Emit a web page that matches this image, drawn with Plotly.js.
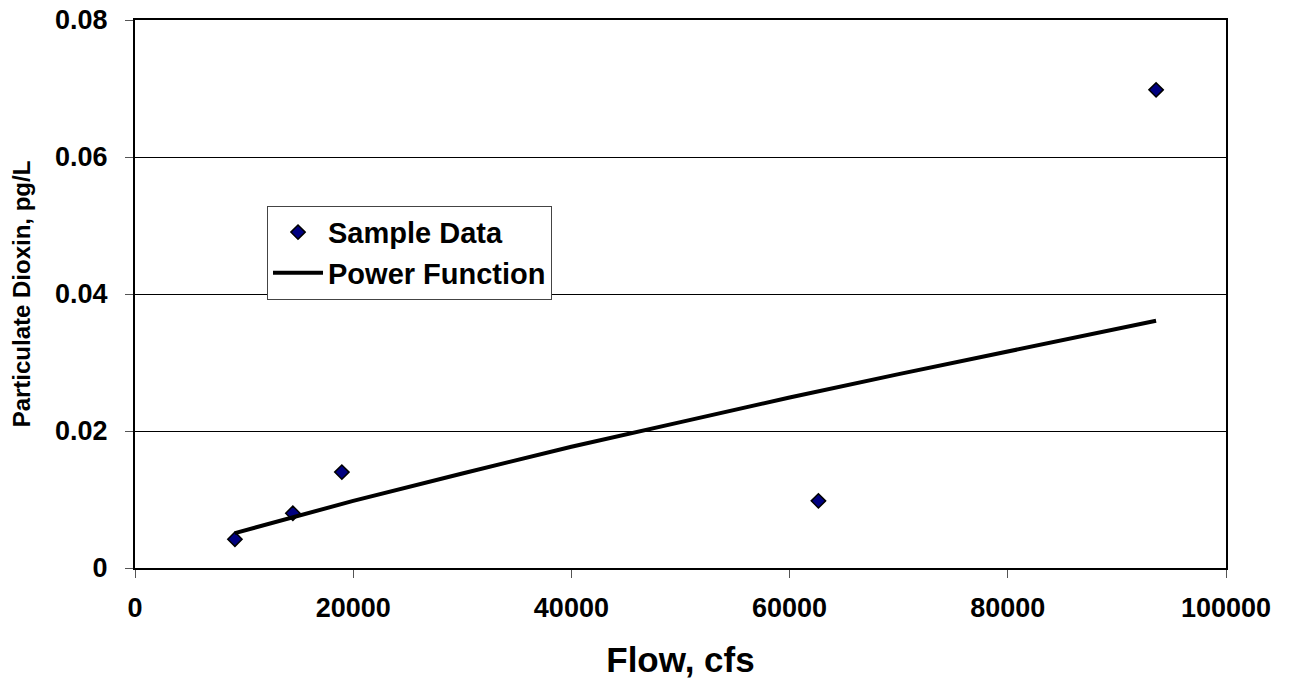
<!DOCTYPE html>
<html>
<head>
<meta charset="utf-8">
<script src="https://cdn.plot.ly/plotly-3.0.1.min.js"></script>
<style>html,body{margin:0;padding:0;background:#fff;}#chart{width:1289px;height:683px;}</style>
</head>
<body>
<div id="chart"></div>
<script>
// Sample data
var flowSample = [9160, 14470, 18960, 62640, 93590];
var dioxinSample = [0.0042, 0.0080, 0.0140, 0.0098, 0.0698];
// Power function fit line
var flowFit = [9160, 20000, 30000, 40000, 50000, 60000, 70000, 80000, 93590];
var dioxinFit = [0.0051, 0.0098, 0.0138, 0.0177, 0.0213, 0.0249, 0.0283, 0.0316, 0.0361];
var xTicks = [0, 20000, 40000, 60000, 80000, 100000];
var yTicks = [0, 0.02, 0.04, 0.06, 0.08];
var yTickText = ['0', '0.02', '0.04', '0.06', '0.08'];

var font = 'Liberation Sans, Arial, sans-serif';
var traces = [
  {x: flowSample, y: dioxinSample, mode: 'markers', type: 'scatter', name: 'Sample Data',
   marker: {symbol: 'diamond', size: 11, color: '#000080', line: {color: '#000', width: 1.5}}},
  {x: flowFit, y: dioxinFit, mode: 'lines', type: 'scatter', name: 'Power Function',
   line: {color: '#000', width: 4}}
];
var layout = {
  width: 1289, height: 683,
  margin: {l: 135, r: 63, t: 20, b: 115},
  paper_bgcolor: '#fff', plot_bgcolor: '#fff',
  font: {family: font, color: '#000'},
  showlegend: true,
  legend: {x: 0.121, y: 0.661, xanchor: 'left', yanchor: 'top', itemwidth: 50,
    bordercolor: '#444', borderwidth: 1, bgcolor: '#fff',
    font: {size: 29, family: font, weight: 'bold'}, tracegroupgap: 0},
  xaxis: {range: [0, 100000], tickvals: xTicks, ticktext: xTicks.map(String),
    showgrid: false, zeroline: false, showline: true, linecolor: '#000', linewidth: 2, mirror: true,
    ticks: 'outside', ticklen: 8, tickcolor: '#555', tickwidth: 1, ticklabelstandoff: 7,
    tickfont: {size: 27, family: font, weight: 'bold'},
    title: {text: 'Flow, cfs', font: {size: 35, family: font, weight: 'bold'}, standoff: 25}},
  yaxis: {range: [0, 0.08], tickvals: yTicks, ticktext: yTickText,
    showgrid: true, gridcolor: '#000', gridwidth: 1, zeroline: false,
    showline: true, linecolor: '#000', linewidth: 2, mirror: true,
    ticks: 'outside', ticklen: 8, tickcolor: '#555', tickwidth: 1, ticklabelstandoff: 12,
    tickfont: {size: 27, family: font, weight: 'bold'},
    title: {text: 'Particulate Dioxin, pg/L', font: {size: 24, family: font, weight: 'bold'}, standoff: 18}}
};
Plotly.newPlot('chart', traces, layout, {displayModeBar: false});
</script>
</body>
</html>
